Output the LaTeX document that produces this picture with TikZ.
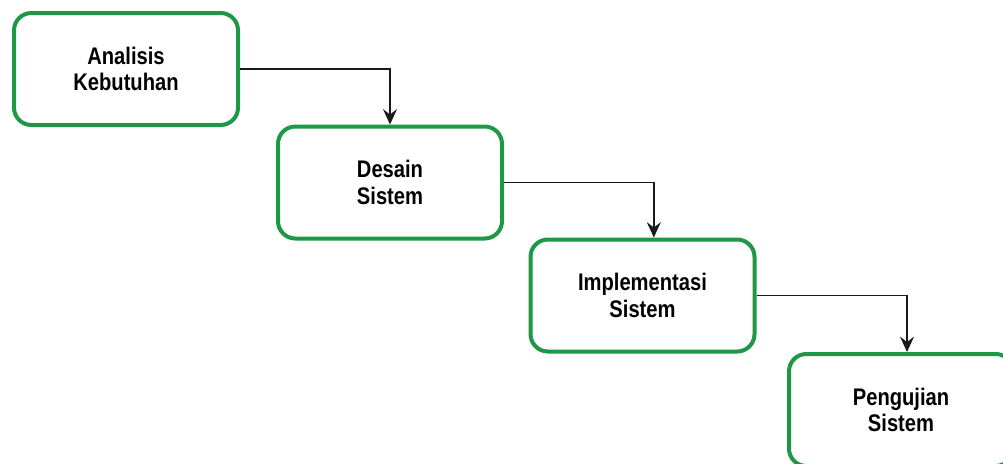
\documentclass[tikz,border=0pt]{standalone}
\usepackage{fontspec}
\setmainfont{Liberation Sans}[FakeStretch=0.84]
\usetikzlibrary{arrows.meta, calc, positioning}
\definecolor{stagegreen}{RGB}{30,152,70}
\tikzstyle{stage} = [rectangle, rounded corners=13pt, minimum width=168pt, minimum height=84pt, text centered, draw=stagegreen, line width=3pt, fill=white, text=black, align=center, font=\fontsize{18}{20}\selectfont\bfseries]
\tikzset{
	FLOW/.style={line width=1.1pt, draw=black!90, arrows={-Stealth[length=11.5pt, width=10.5pt, inset=4pt]}}
}

\begin{document}
\begin{tikzpicture}[x=0.75pt, y=-0.75pt]
					\useasboundingbox (0,0) rectangle (1003,464);
					\node (analisis) [stage] at (126,69) {Analisis\\Kebutuhan};
					\node (desain) [stage] at (390,182.5) {Desain\\Sistem};
					\node (implementasi) [stage] at (642.5,295.5) {Implementasi\\Sistem};
					\node (pengujian) [stage] at (901,410) {Pengujian\\Sistem};
					\draw [FLOW] (analisis.east) -| (desain.north);
					\draw [FLOW] (desain.east) -| ([xshift=8.5pt]implementasi.north);
					\draw [FLOW] (implementasi.east) -| ([xshift=4.5pt]pengujian.north);
				\end{tikzpicture}
\end{document}
